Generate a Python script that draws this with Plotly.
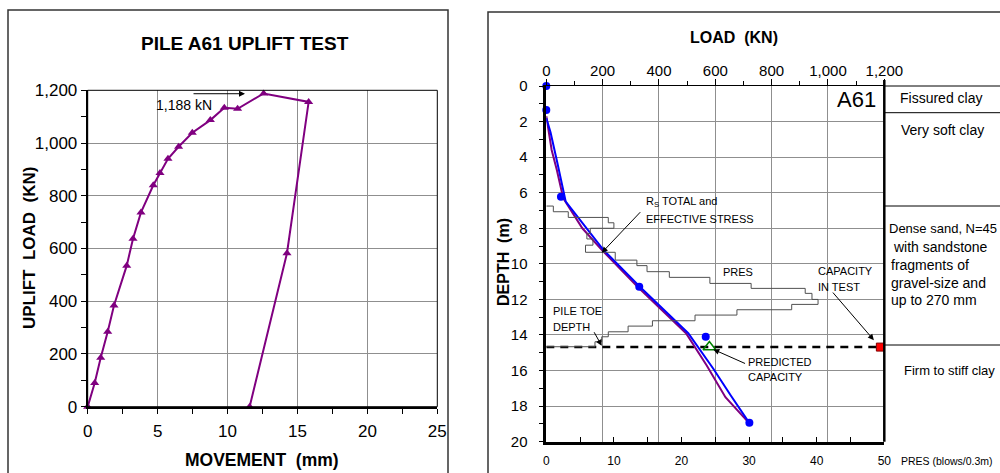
import plotly.graph_objects as go

# ---------------- Left chart data: PILE A61 UPLIFT TEST ----------------
movement_mm = [0, 0.5, 0.93, 1.43, 1.88, 2.79, 3.24, 3.81, 4.69, 5.17, 5.74, 6.5,
               7.48, 8.77, 9.77, 10.72, 12.58, 15.8, 14.25, 11.58]
uplift_load_kn = [0, 90, 186, 284, 384, 535, 637, 737, 840, 886, 940, 986,
                  1039, 1087, 1134, 1130, 1188, 1156, 582, 0]
max_load_label = "1,188 kN"

# ---------------- Right chart data: load vs depth ----------------
measured_load = [0, 0, 52, 330, 566, 721]
measured_depth = [0, 1.35, 6.23, 11.29, 14.1, 18.94]

rs_effective_load = [0, 15, 39, 69, 202, 333, 504, 593, 655, 723]
rs_effective_depth = [1.8, 2.6, 4.3, 6.5, 9.2, 11.3, 13.9, 15.9, 17.4, 19.0]

rs_total_load = [0, 19, 37, 60, 128, 196, 325, 496, 569, 636, 717]
rs_total_depth = [1.7, 3.6, 4.7, 6.3, 8.0, 9.2, 11.3, 13.9, 15.7, 17.5, 18.9]

pres_blows = [0, 1.04, 3.25, 9.17, 10.0, 6.5, 6.0, 6.9, 5.8, 10.2, 13.4, 14.9, 18.2,
              24.2, 30.3, 38.3, 39.3, 40.2, 36.3, 28.2, 22.0, 15.7, 12.1, 9.17, 8.2, 7.2, 0]
pres_depth = [6.75, 7.07, 7.39, 7.69, 8.0, 8.3, 8.6, 8.95, 9.35, 9.79, 10.1, 10.44, 10.76,
              11.1, 11.38, 11.66, 12.0, 12.28, 12.58, 12.88, 13.2, 13.5, 13.82, 14.1, 14.38, 14.66, 14.66]

pile_toe_depth = 14.68
toe_line_load = [0, 1200]
test_capacity_load = [1186]
predicted_capacity_load = [579]

load_ticks = [0, 200, 400, 600, 800, 1000, 1200]
depth_ticks = [0, 2, 4, 6, 8, 10, 12, 14, 16, 18, 20]
pres_ticks = [0, 10, 20, 30, 40, 50]

soil_layers = [  # (label, left px, centre y px, font size)
    ("Fissured clay", 898, 98, 14),
    ("Very soft clay", 899, 130, 14),
    ("Dense sand, N=45", 887, 228, 13),
    ("with sandstone", 891, 247, 14),
    ("fragments of", 889, 265, 14),
    ("gravel-size and", 889, 283, 14),
    ("up to 270 mm", 889, 300, 14),
    ("Firm to stiff clay", 902, 370, 13),
]
layer_boundaries_px = [86, 112.7, 206, 345]

W, H = 1000, 473
def px(x):
    return x / W
def py(y):
    return 1 - y / H

FONT = "Liberation Sans, Arial, sans-serif"
PURPLE = "#800080"
GRID = "#8f8f8f"

fig = go.Figure()

# Left chart trace
fig.add_trace(go.Scatter(
    x=movement_mm, y=uplift_load_kn, mode="lines+markers",
    line=dict(color=PURPLE, width=2),
    marker=dict(symbol="triangle-up", size=8, color=PURPLE),
    xaxis="x", yaxis="y", cliponaxis=False, showlegend=False))

# Right chart traces
fig.add_trace(go.Scatter(
    x=pres_blows, y=pres_depth, mode="lines", line=dict(color="#505050", width=1, shape="hv"),
    xaxis="x3", yaxis="y2", showlegend=False))
fig.add_trace(go.Scatter(
    x=toe_line_load, y=[pile_toe_depth] * len(toe_line_load), mode="lines",
    line=dict(color="black", width=2.5, dash="8px,6px"),
    xaxis="x2", yaxis="y2", showlegend=False))
fig.add_trace(go.Scatter(
    x=rs_total_load, y=rs_total_depth, mode="lines", line=dict(color=PURPLE, width=2),
    xaxis="x2", yaxis="y2", showlegend=False))
fig.add_trace(go.Scatter(
    x=rs_effective_load, y=rs_effective_depth, mode="lines", line=dict(color="#0000ff", width=2),
    xaxis="x2", yaxis="y2", showlegend=False))
fig.add_trace(go.Scatter(
    x=measured_load, y=measured_depth, mode="markers",
    marker=dict(color="#0000ff", size=8), cliponaxis=False,
    xaxis="x2", yaxis="y2", showlegend=False))
fig.add_trace(go.Scatter(
    x=predicted_capacity_load, y=[pile_toe_depth], mode="markers",
    marker=dict(symbol="triangle-up-open", color="#008000", size=11, line=dict(width=1.5)),
    xaxis="x2", yaxis="y2", showlegend=False))
fig.add_trace(go.Scatter(
    x=test_capacity_load, y=[pile_toe_depth], mode="markers",
    marker=dict(symbol="square", color="#ff0000", size=8, line=dict(color="#800000", width=1)),
    cliponaxis=False, xaxis="x2", yaxis="y2", showlegend=False))

tickfont_l = dict(family=FONT, size=17, color="black")
tickfont_r = dict(family=FONT, size=15, color="black")

fig.update_layout(
    width=W, height=H, margin=dict(l=0, r=0, t=0, b=0, autoexpand=False),
    paper_bgcolor="white", plot_bgcolor="white",
    font=dict(family=FONT, color="black"),
    xaxis=dict(domain=[px(87.7), px(437.3)], range=[0, 25], anchor="y", automargin=False,
               tickvals=[0, 5, 10, 15, 20, 25], showgrid=True, gridcolor=GRID, gridwidth=1,
               zeroline=False, showline=True, linecolor="black", linewidth=2,
               ticks="outside", ticklen=5, tickcolor="black", tickwidth=1,
               minor=dict(dtick=2.5, ticks="outside", ticklen=5, tickcolor="black", showgrid=False),
               tickfont=tickfont_l, ticklabelstandoff=3),
    yaxis=dict(domain=[py(406.7), py(90.3)], range=[0, 1200], anchor="x", automargin=False,
               tickvals=load_ticks, tickformat=",", showgrid=True, gridcolor=GRID, gridwidth=1,
               zeroline=False, showline=True, linecolor="black", linewidth=2,
               ticks="outside", ticklen=5, tickcolor="black", tickwidth=1,
               minor=dict(dtick=100, ticks="outside", ticklen=5, tickcolor="black", showgrid=False),
               tickfont=tickfont_l, ticklabelstandoff=0),
    xaxis2=dict(domain=[px(546.3), px(884.3)], range=[0, 1200], anchor="y2", side="top", automargin=False,
                tickvals=load_ticks, tickformat=",", showgrid=True, gridcolor=GRID, gridwidth=1,
                zeroline=False, showline=True, linecolor="black", linewidth=1,
                ticks="outside", ticklen=6, tickcolor="black", tickwidth=1,
                minor=dict(dtick=100, ticks="outside", ticklen=4, tickcolor="black", showgrid=False),
                tickfont=tickfont_r, ticklabelstandoff=-3),
    xaxis3=dict(range=[0, 50], overlaying="x2", anchor="y2", side="bottom", automargin=False,
                tickvals=pres_ticks, showgrid=False, zeroline=False,
                showline=True, linecolor="black", linewidth=2.5,
                ticks="inside", ticklen=5, tickcolor="black", tickwidth=1,
                minor=dict(dtick=5, ticks="inside", ticklen=5, tickcolor="black", showgrid=False),
                tickfont=dict(family=FONT, size=12, color="black"), ticklabelstandoff=6),
    yaxis2=dict(domain=[py(441.7), py(86)], range=[20, 0], anchor="x2", automargin=False,
                tickvals=depth_ticks, showgrid=True, gridcolor=GRID, gridwidth=1,
                zeroline=False, showline=True, linecolor="black", linewidth=2.5,
                ticks="outside", ticklen=5, tickcolor="black", tickwidth=1,
                minor=dict(dtick=1, ticks="outside", ticklen=5, tickcolor="black", showgrid=False),
                tickfont=dict(family=FONT, size=15, color="black"), ticklabelstandoff=8),
)

shapes = []
# outer frames
shapes.append(dict(type="rect", xref="paper", yref="paper", x0=px(8), x1=px(448), y0=py(490), y1=py(10),
                   line=dict(color="#333333", width=1.5)))
shapes.append(dict(type="rect", xref="paper", yref="paper", x0=px(488), x1=px(1012), y0=py(490), y1=py(12),
                   line=dict(color="#333333", width=1.5)))
# left plot box (top and right edges)
shapes.append(dict(type="rect", xref="paper", yref="paper", x0=px(87.7), x1=px(437.3), y0=py(406.7), y1=py(90.3),
                   line=dict(color="black", width=1)))
# right plot right edge (thick) and soil table
shapes.append(dict(type="line", xref="paper", yref="paper", x0=px(884.3), x1=px(884.3), y0=py(441.7), y1=py(80),
                   line=dict(color="black", width=2.5)))
for b in layer_boundaries_px:
    shapes.append(dict(type="line", xref="paper", yref="paper", x0=px(884.3), x1=px(1002), y0=py(b), y1=py(b),
                       line=dict(color="black", width=1)))
fig.update_layout(shapes=shapes)

ann = []
def text(x, y, s, size, bold=False, xanchor="center", yanchor="middle", xref="paper", yref="paper", angle=0):
    ann.append(dict(x=x, y=y, xref=xref, yref=yref, text=(f"<b>{s}</b>" if bold else s),
                    showarrow=False, xanchor=xanchor, yanchor=yanchor, textangle=angle,
                    font=dict(family=FONT, size=size, color="black")))

def arrow(x_tail, y_tail, x_head, y_head, xref, yref, width=1):
    ann.append(dict(x=x_head, y=y_head, ax=x_tail, ay=y_tail, xref=xref, yref=yref,
                    axref=xref, ayref=yref, text="", showarrow=True, arrowhead=2,
                    arrowsize=1.2, arrowwidth=width, arrowcolor="black"))

# left chart texts
text(px(245), py(44), "PILE A61 UPLIFT TEST", 19, bold=True)
text(px(262), py(460), "MOVEMENT\u00a0 (mm)", 17.5, bold=True)
text(px(29), py(248), "UPLIFT\u00a0 LOAD\u00a0 (KN)", 17, bold=True, angle=-90)
text(6.9, 1145, max_load_label, 14, xref="x", yref="y")
arrow(7.46, 1187, 11.25, 1187, "x", "y")

# right chart texts
text(px(734), py(37), "LOAD\u00a0 (KN)", 16, bold=True)
text(px(503), py(262), "DEPTH\u00a0 (m)", 16, bold=True, angle=-90)
text(px(856), py(100), "A61", 22)
text(px(899), py(461), "PRES (blows/0.3m)", 10.5, xanchor="left")
text(346.8, 6.55, "R<sub>S</sub> TOTAL and", 11, xanchor="left", xref="x2", yref="y2")
text(346.8, 7.48, "EFFECTIVE STRESS", 11, xanchor="left", xref="x2", yref="y2")
arrow(338.7, 7.01, 196.7, 9.38, "x2", "y2")
text(681.6, 10.44, "PRES", 11, xref="x2", yref="y2")
text(16.7, 12.65, "PILE TOE", 11, xanchor="left", xref="x2", yref="y2")
text(16.7, 13.54, "DEPTH", 11, xanchor="left", xref="x2", yref="y2")
arrow(166.8, 13.76, 196.7, 14.6, "x2", "y2")
text(957.4, 10.39, "CAPACITY", 11, xanchor="left", xref="x2", yref="y2")
text(957.4, 11.32, "IN TEST", 11, xanchor="left", xref="x2", yref="y2")
arrow(1013, 11.53, 1163, 14.29, "x2", "y2")
text(709, 15.54, "PREDICTED", 11, xanchor="left", xref="x2", yref="y2")
text(709, 16.35, "CAPACITY", 11, xanchor="left", xref="x2", yref="y2")
arrow(711, 15.64, 593, 14.81, "x2", "y2")

for label, left, cy, size in soil_layers:
    text(px(left), py(cy), label, size, xanchor="left")

fig.update_layout(annotations=ann)
fig.write_html("out.html", config={"displayModeBar": False},
               post_script="document.body.style.margin='0';document.body.style.overflow='hidden';")
